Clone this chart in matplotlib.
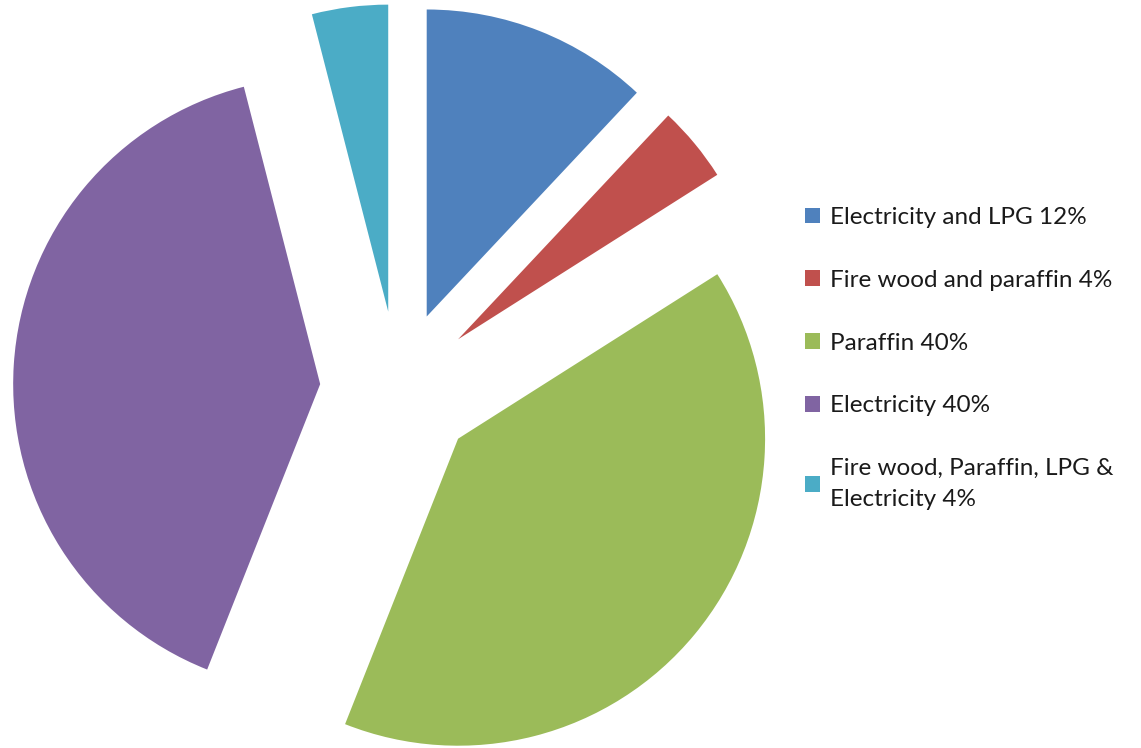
import matplotlib
matplotlib.use("Agg")
import matplotlib.pyplot as plt

labels = ["Electricity and LPG 12%", "Fire wood and paraffin 4%", "Paraffin 40%",
          "Electricity 40%", "Fire wood, Paraffin, LPG &\nElectricity 4%"]
shares = [12, 4, 40, 40, 4]
colors = ["#4F81BD", "#C0504D", "#9BBB59", "#8064A2", "#4BACC6"]

plt.rcParams['font.family'] = ['Lato', 'DejaVu Sans']

fig = plt.figure(figsize=(11.41, 7.48), dpi=100)
ax = fig.add_axes([0, 0, 1, 1])

# pie radius = 307 px, centre at (398, 389) px from top-left
R = 307.0
cx, cy = 398.0, 389.0
wedges, _ = ax.pie(shares, colors=colors, startangle=90, counterclock=False,
                   explode=[0.254] * 5, radius=1,
                   wedgeprops=dict(linewidth=0))
ax.set_aspect('auto')
ax.set_xlim(-cx / R, (1141 - cx) / R)
ax.set_ylim(-(748 - cy) / R, cy / R)
ax.axis('off')

leg = fig.legend(wedges, labels, loc='upper left',
                 bbox_to_anchor=(805 / 1141, 1 - 207 / 748),
                 frameon=False, fontsize=17.5, handlelength=0.62, handleheight=0.62,
                 handletextpad=0.4, labelspacing=1.72, borderpad=0, borderaxespad=0)
for t in leg.get_texts():
    t.set_color('#1a1a1a')
    t.set_linespacing(1.55)

fig.savefig("out.png", dpi=100)
